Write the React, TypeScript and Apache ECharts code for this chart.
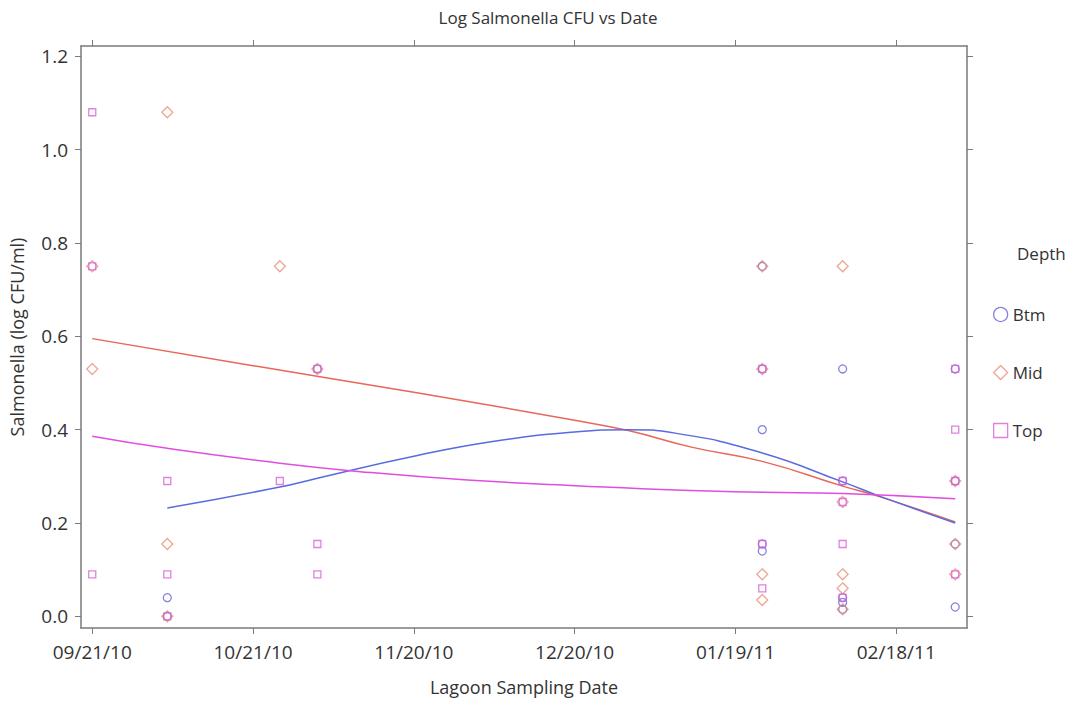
import React, { useEffect, useRef } from "react";
import * as echarts from "echarts";

// ---- Data ----
const START = "2010-09-21";
const X_TICK_DAYS = [0, 30, 60, 90, 120, 150];
const Y_TICKS = [0, 0.2, 0.4, 0.6, 0.8, 1.0, 1.2];

const btmDates = [
  "2010-10-05", "2010-10-05",
  "2010-11-02",
  "2011-01-24", "2011-01-24", "2011-01-24", "2011-01-24", "2011-01-24",
  "2011-02-08", "2011-02-08", "2011-02-08", "2011-02-08", "2011-02-08",
  "2011-03-01", "2011-03-01", "2011-03-01", "2011-03-01",
];
const btmValues = [
  0.04, 0.0,
  0.53,
  0.75, 0.53, 0.4, 0.155, 0.14,
  0.53, 0.29, 0.04, 0.03, 0.015,
  0.53, 0.29, 0.155, 0.02,
];

const midDates = [
  "2010-09-21", "2010-09-21",
  "2010-10-05", "2010-10-05", "2010-10-05",
  "2010-10-26",
  "2010-11-02",
  "2011-01-24", "2011-01-24", "2011-01-24", "2011-01-24",
  "2011-02-08", "2011-02-08", "2011-02-08", "2011-02-08", "2011-02-08",
  "2011-03-01", "2011-03-01", "2011-03-01",
];
const midValues = [
  0.75, 0.53,
  1.08, 0.155, 0.0,
  0.75,
  0.53,
  0.75, 0.53, 0.09, 0.035,
  0.75, 0.245, 0.09, 0.06, 0.015,
  0.29, 0.155, 0.09,
];

const topDates = [
  "2010-09-21", "2010-09-21", "2010-09-21",
  "2010-10-05", "2010-10-05", "2010-10-05",
  "2010-10-26",
  "2010-11-02", "2010-11-02", "2010-11-02",
  "2011-01-24", "2011-01-24", "2011-01-24",
  "2011-02-08", "2011-02-08", "2011-02-08", "2011-02-08",
  "2011-03-01", "2011-03-01", "2011-03-01", "2011-03-01",
];
const topValues = [
  1.08, 0.75, 0.09,
  0.29, 0.09, 0.0,
  0.29,
  0.53, 0.155, 0.09,
  0.53, 0.155, 0.06,
  0.29, 0.245, 0.155, 0.04,
  0.53, 0.4, 0.29, 0.09,
];

// Fitted curves
const btmFitDates = ["2010-10-05", "2010-10-26", "2010-11-02", "2010-11-20", "2010-12-05", "2010-12-20", "2010-12-30", "2011-01-08", "2011-01-24", "2011-02-08", "2011-02-15", "2011-03-01"];
const btmFitValues = [0.232, 0.277, 0.296, 0.343, 0.375, 0.395, 0.4, 0.392, 0.35, 0.288, 0.257, 0.2];

const midFitDates = ["2010-09-21", "2010-10-21", "2010-11-20", "2010-12-20", "2010-12-30", "2011-01-11", "2011-01-24", "2011-02-08", "2011-02-15", "2011-03-01"];
const midFitValues = [0.595, 0.537, 0.48, 0.42, 0.398, 0.362, 0.332, 0.279, 0.256, 0.202];

const topFitDates = ["2010-09-21", "2010-10-05", "2010-10-26", "2010-11-10", "2010-11-30", "2010-12-20", "2011-01-09", "2011-01-24", "2011-02-08", "2011-03-01"];
const topFitValues = [0.386, 0.36, 0.328, 0.31, 0.292, 0.28, 0.27, 0.266, 0.263, 0.252];

// ---- Helpers ----
const dayOf = (s: string) => {
  const [y, m, d] = s.split("-").map(Number);
  const [y0, m0, d0] = START.split("-").map(Number);
  return Math.round((Date.UTC(y, m - 1, d) - Date.UTC(y0, m0 - 1, d0)) / 86400000);
};
const dayLabel = (n: number) => {
  const [y0, m0, d0] = START.split("-").map(Number);
  const dt = new Date(Date.UTC(y0, m0 - 1, d0) + n * 86400000);
  const mm = String(dt.getUTCMonth() + 1).padStart(2, "0");
  const dd = String(dt.getUTCDate()).padStart(2, "0");
  const yy = String(dt.getUTCFullYear() % 100).padStart(2, "0");
  return `${mm}/${dd}/${yy}`;
};
const pairs = (ds: string[], vs: number[]) => ds.map((d, i) => [dayOf(d), vs[i]]);

const FONT = "Open Sans";
const BTM = "#6464d8";
const MID = "#e8907a";
const TOP = "#d860d8";
const BTM_LINE = "#5a6ae0";
const MID_LINE = "#e8665a";
const TOP_LINE = "#e04ee0";
const AXIS = "#7a7a7a";

export default function App() {
  const ref = useRef<HTMLDivElement>(null);
  useEffect(() => {
    if (!ref.current) return;
    const chart = echarts.init(ref.current, undefined, { renderer: "svg" });
    const xMin = -2.1;
    const xMax = 163.2;
    const yMin = -0.025;
    const yMax = 1.222;
    const xAxisBase = {
      type: "value",
      min: xMin,
      max: xMax,
      splitLine: { show: false },
      axisLine: { show: true, onZero: false, lineStyle: { color: AXIS, width: 1.5 } },
      axisTick: { show: true, length: 6, customValues: X_TICK_DAYS, lineStyle: { color: AXIS } },
    };
    const yAxisBase = {
      type: "value",
      min: yMin,
      max: yMax,
      splitLine: { show: false },
      axisLine: { show: true, onZero: false, lineStyle: { color: AXIS, width: 1.5 } },
      axisTick: { show: true, length: 6, customValues: Y_TICKS, lineStyle: { color: AXIS } },
    };
    const scatterStyle = (c: string) => ({ color: "rgba(0,0,0,0)", borderColor: c, borderWidth: 1.3 });
    chart.setOption({
      animation: false,
      backgroundColor: "#ffffff",
      textStyle: { fontFamily: FONT },
      title: {
        text: "Log Salmonella CFU vs Date",
        left: 543,
        top: 4,
        textAlign: "center",
        textStyle: { fontFamily: FONT, fontSize: 17, fontWeight: "normal", color: "#333" },
      },
      grid: { left: 81, right: 109, top: 46, bottom: 74, containLabel: false, outerBoundsMode: "none" },
      xAxis: [
        {
          ...xAxisBase,
          position: "bottom",
          name: "Lagoon Sampling Date",
          nameLocation: "middle",
          nameGap: 50,
          nameTextStyle: { fontFamily: FONT, fontSize: 18, color: "#333" },
          axisLabel: {
            show: true,
            customValues: X_TICK_DAYS,
            formatter: (v: number) => dayLabel(v),
            fontFamily: FONT,
            fontSize: 19,
            color: "#333",
            margin: 14,
          },
        },
        { ...xAxisBase, position: "top", axisLabel: { show: false } },
      ],
      yAxis: [
        {
          ...yAxisBase,
          position: "left",
          name: "Salmonella (log CFU/ml)",
          nameLocation: "middle",
          nameGap: 55,
          nameTextStyle: { fontFamily: FONT, fontSize: 18, color: "#333" },
          axisLabel: {
            show: true,
            customValues: Y_TICKS,
            formatter: (v: number) => v.toFixed(1),
            fontFamily: FONT,
            fontSize: 19,
            color: "#333",
            margin: 13,
          },
        },
        { ...yAxisBase, position: "right", axisLabel: { show: false } },
      ],
      legend: {
        orient: "vertical",
        left: 988,
        top: 301,
        itemWidth: 14,
        itemHeight: 14,
        itemGap: 41,
        textStyle: { fontFamily: FONT, fontSize: 17, color: "#333" },
        data: [
          { name: "Btm", icon: "circle", itemStyle: scatterStyle(BTM) },
          { name: "Mid", icon: "diamond", itemStyle: scatterStyle(MID) },
          { name: "Top", icon: "rect", itemStyle: scatterStyle(TOP) },
        ],
      },
      graphic: [
        {
          type: "text",
          left: 1017,
          top: 245,
          style: { text: "Depth", fontFamily: FONT, fontSize: 17, fill: "#333" },
        },
      ],
      series: [
        {
          name: "Mid fit",
          type: "line",
          data: pairs(midFitDates, midFitValues),
          smooth: true,
          showSymbol: false,
          lineStyle: { color: MID_LINE, width: 1.5 },
          z: 2,
        },
        {
          name: "Btm fit",
          type: "line",
          data: pairs(btmFitDates, btmFitValues),
          smooth: true,
          showSymbol: false,
          lineStyle: { color: BTM_LINE, width: 1.5 },
          z: 2,
        },
        {
          name: "Top fit",
          type: "line",
          data: pairs(topFitDates, topFitValues),
          smooth: true,
          showSymbol: false,
          lineStyle: { color: TOP_LINE, width: 1.5 },
          z: 2,
        },
        {
          name: "Btm",
          type: "scatter",
          symbol: "circle",
          symbolSize: 8,
          data: pairs(btmDates, btmValues),
          itemStyle: scatterStyle(BTM),
          z: 3,
        },
        {
          name: "Mid",
          type: "scatter",
          symbol: "diamond",
          symbolSize: 11,
          data: pairs(midDates, midValues),
          itemStyle: scatterStyle(MID),
          z: 3,
        },
        {
          name: "Top",
          type: "scatter",
          symbol: "rect",
          symbolSize: 7,
          data: pairs(topDates, topValues),
          itemStyle: scatterStyle(TOP),
          z: 3,
        },
      ],
    });
    return () => chart.dispose();
  }, []);
  return <div ref={ref} style={{ width: 1076, height: 702, position: "absolute", left: 0, top: 0 }} />;
}
